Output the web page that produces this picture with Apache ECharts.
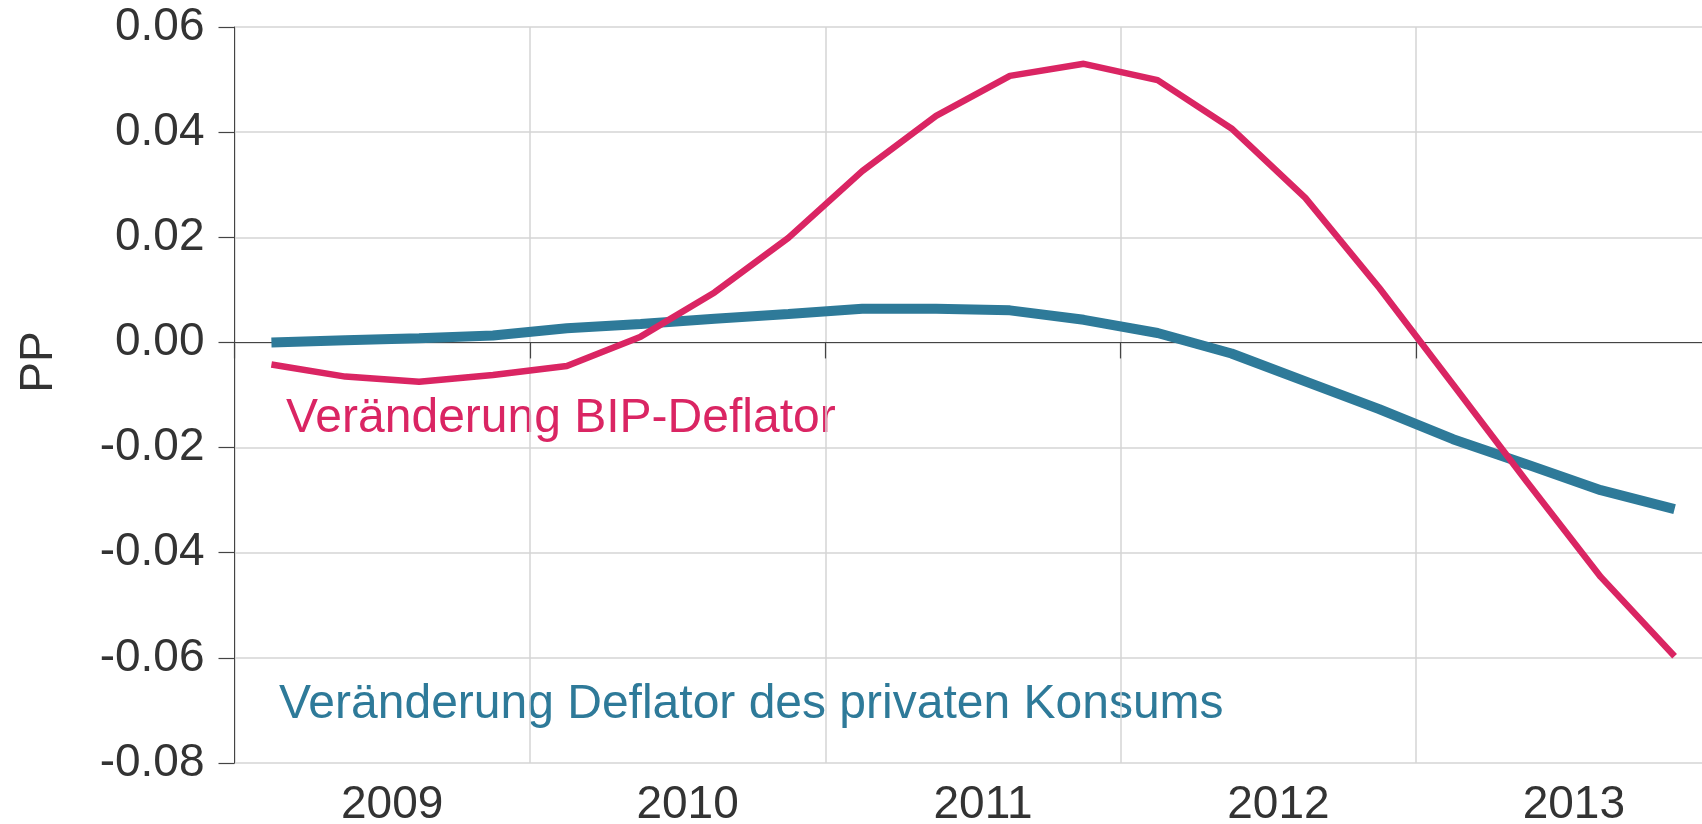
<!DOCTYPE html>
<html>
<head>
<meta charset="utf-8">
<script src="https://cdn.jsdelivr.net/npm/echarts@6/dist/echarts.min.js"></script>
<style>
  html, body { margin: 0; padding: 0; background: #fff; }
  #chart { width: 1702px; height: 824px; }
</style>
</head>
<body>
<div id="chart"></div>
<script>
// years shown on the axis, quarters used for the points
const years = ['2009', '2010', '2011', '2012', '2013']
const quarters = []
years.forEach(y => { ['Q1', 'Q2', 'Q3', 'Q4'].forEach(q => quarters.push(y + q)) })

// Veränderung BIP-Deflator
const bipDeflator = [
  -0.0042, -0.0065, -0.0075, -0.0062, -0.0045,
  0.0011, 0.0095, 0.0199, 0.0326, 0.0431,
  0.0507, 0.0530, 0.0499, 0.0407, 0.0275,
  0.0104, -0.0080, -0.0265, -0.0446, -0.0597
]
// Veränderung Deflator des privaten Konsums
const konsumDeflator = [
  0.0000, 0.0004, 0.0008, 0.0013, 0.0027,
  0.0035, 0.0045, 0.0054, 0.0064, 0.0064,
  0.0061, 0.0043, 0.0018, -0.0021, -0.0074,
  -0.0127, -0.0184, -0.0232, -0.0281, -0.0317
]

const pink = '#da2563'
const blue = '#2e7a99'
const font = "'Liberation Sans', Arial, sans-serif"

const chart = echarts.init(document.getElementById('chart'))

chart.setOption({
  animation: false,
  grid: {
    left: 234.5, top: 27, bottom: 61, right: -9.5,
    containLabel: false, outerBoundsMode: 'none'
  },
  xAxis: [
    {
      // year labels + vertical grid lines
      type: 'category',
      data: years,
      boundaryGap: true,
      position: 'bottom',
      axisLine: { show: false, onZero: false },
      axisTick: { show: false },
      axisLabel: {
        color: '#333', fontSize: 46, fontFamily: font,
        margin: 42, verticalAlign: 'middle', padding: [0, 0, 0, 20]
      },
      splitLine: { show: true, lineStyle: { color: '#d4d4d4', width: 1.5 } }
    },
    {
      // quarters, axis line at zero with year ticks
      type: 'category',
      data: quarters,
      boundaryGap: true,
      position: 'top',
      axisLine: { show: true, onZero: true, lineStyle: { color: '#444', width: 1.2 } },
      axisTick: { show: true, inside: true, interval: 3, length: 16, lineStyle: { color: '#444', width: 1.2 } },
      axisLabel: { show: false },
      splitLine: { show: false }
    }
  ],
  yAxis: {
    type: 'value',
    min: -0.08,
    max: 0.06,
    interval: 0.02,
    axisLine: { show: true, lineStyle: { color: '#444', width: 1 } },
    axisTick: { show: true, length: 16, lineStyle: { color: '#444', width: 1.2 } },
    axisLabel: {
      color: '#333', fontSize: 46, fontFamily: font, margin: 30,
      formatter: v => (Math.abs(v) < 1e-9 ? 0 : v).toFixed(2)
    },
    splitLine: { show: true, lineStyle: { color: '#d4d4d4', width: 1.5 } }
  },
  series: [
    {
      name: 'Veränderung Deflator des privaten Konsums',
      type: 'line',
      xAxisIndex: 1,
      data: konsumDeflator,
      showSymbol: false,
      lineStyle: { color: blue, width: 10 }
    },
    {
      name: 'Veränderung BIP-Deflator',
      type: 'line',
      xAxisIndex: 1,
      data: bipDeflator,
      showSymbol: false,
      lineStyle: { color: pink, width: 6.5 }
    }
  ],
  graphic: [
    {
      type: 'text', x: 39, y: 362, rotation: Math.PI / 2,
      style: { text: 'PP', fill: '#333', font: '46px ' + font, textAlign: 'center', textVerticalAlign: 'middle' }
    },
    {
      type: 'text', x: 286, y: 419,
      style: { text: 'Veränderung BIP-Deflator', fill: pink, font: '48px ' + font, textAlign: 'left', textVerticalAlign: 'middle' }
    },
    {
      type: 'text', x: 279, y: 705,
      style: { text: 'Veränderung Deflator des privaten Konsums', fill: blue, font: '48px ' + font, textAlign: 'left', textVerticalAlign: 'middle' }
    }
  ]
})
</script>
</body>
</html>
